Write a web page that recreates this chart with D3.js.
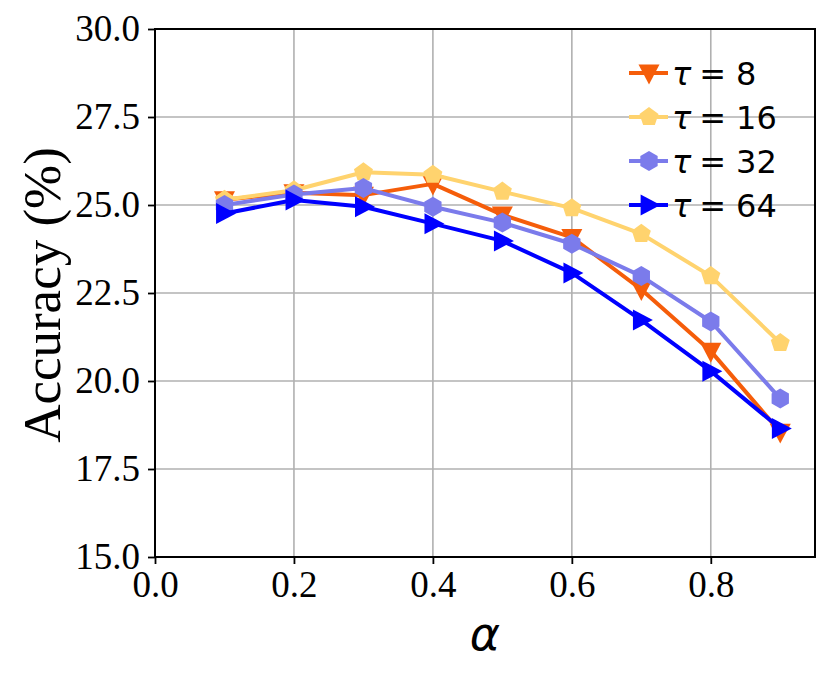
<!DOCTYPE html>
<html><head><meta charset="utf-8">
<script src="https://cdn.jsdelivr.net/npm/d3@7"></script>
<style>body{margin:0;background:#fff;} svg{display:block;}</style>
</head><body>
<svg id="c" width="830" height="677"></svg>
<script>
const alphas = [0.1,0.2,0.3,0.4,0.5,0.6,0.7,0.8,0.9];
const tau8  = [25.15,25.35,25.28,25.6,24.72,24.08,22.6,20.85,18.55];
const tau16 = [25.15,25.42,25.93,25.86,25.38,24.91,24.18,22.98,21.08];
const tau32 = [25.0,25.3,25.48,24.95,24.5,23.9,22.98,21.69,19.5];
const tau64 = [24.76,25.14,24.95,24.47,23.98,23.07,21.73,20.28,18.65];
const seriesNames = ["8","16","32","64"];
const seriesColors = ["#F55D0A","#FFD36E","#7B7BEB","#0000FF"];
const seriesMarkers = ["tridown","pentagon","hexagon","triright"];
const xTicks = [0.0,0.2,0.4,0.6,0.8];
const yTicks = [15.0,17.5,20.0,22.5,25.0,27.5,30.0];

const svg = d3.select("#c");
const L=155,R=815,T=29,B=557;
const x = d3.scaleLinear().domain([0,0.95]).range([L,R]);
const y = d3.scaleLinear().domain([15,30]).range([B,T]);

// grid
svg.append("g").selectAll("line").data(xTicks).join("line")
  .attr("x1",d=>x(d)).attr("x2",d=>x(d)).attr("y1",T).attr("y2",B)
  .attr("stroke","#b0b0b0").attr("stroke-width",1.6);
svg.append("g").selectAll("line").data(yTicks).join("line")
  .attr("y1",d=>y(d)).attr("y2",d=>y(d)).attr("x1",L).attr("x2",R)
  .attr("stroke","#b0b0b0").attr("stroke-width",1.6);

// axes
const xAxis = d3.axisBottom(x).tickValues(xTicks).tickFormat(d3.format(".1f")).tickSize(7).tickPadding(7);
const yAxis = d3.axisLeft(y).tickValues(yTicks).tickFormat(d3.format(".1f")).tickSize(7).tickPadding(8);
const gx = svg.append("g").attr("transform",`translate(0,${B})`).call(xAxis);
const gy = svg.append("g").attr("transform",`translate(${L},0)`).call(yAxis);
[gx,gy].forEach(g=>{
  g.select(".domain").remove();
  g.selectAll(".tick line").attr("stroke","#000").attr("stroke-width",1.8);
  g.selectAll(".tick text").attr("fill","#000").style("font-family","'Liberation Serif','Times New Roman',serif").style("font-size","37px");
});

function markerPath(type){
  if(type==="tridown"){ const s=10.5; return `M${-s},${-s*0.8}L${s},${-s*0.8}L0,${s*1.1}Z`; }
  if(type==="triright"){ const s=10.5; return `M${-s*0.8},${-s}L${-s*0.8},${s}L${s*1.1},0Z`; }
  const n = type==="pentagon"?5:6, r = 10;
  const pts=[];
  for(let i=0;i<n;i++){ const a=-Math.PI/2+i*2*Math.PI/n; pts.push([r*Math.cos(a),r*Math.sin(a)]); }
  return "M"+pts.map(p=>p.join(",")).join("L")+"Z";
}

const allSeries=[tau8,tau16,tau32,tau64];
const line = d3.line().x((d,i)=>x(alphas[i])).y(d=>y(d));
const plot = svg.append("g");
allSeries.forEach((vals,si)=>{
  const g = plot.append("g");
  g.append("path").attr("d",line(vals)).attr("fill","none")
    .attr("stroke",seriesColors[si]).attr("stroke-width",4).attr("stroke-linejoin","round");
  g.selectAll("path.m").data(vals).join("path").attr("class","m")
    .attr("d",markerPath(seriesMarkers[si]))
    .attr("transform",(d,i)=>`translate(${x(alphas[i])},${y(d)})`)
    .attr("fill",seriesColors[si]);
});

// spines
svg.append("rect").attr("x",L).attr("y",T).attr("width",R-L).attr("height",B-T)
  .attr("fill","none").attr("stroke","#000").attr("stroke-width",2);

// legend
const lg = svg.append("g");
seriesNames.forEach((nm,i)=>{
  const cy = 73 + i*44;
  lg.append("line").attr("x1",629).attr("x2",668).attr("y1",cy).attr("y2",cy)
    .attr("stroke",seriesColors[i]).attr("stroke-width",4);
  lg.append("path").attr("d",markerPath(seriesMarkers[i])).attr("transform",`translate(649,${cy})`).attr("fill",seriesColors[i]);
  const t = lg.append("text").attr("x",672).attr("y",cy+11.5)
    .style("font-family","'DejaVu Sans',sans-serif").style("font-size","32px").attr("fill","#000");
  t.append("tspan").style("font-style","italic").text("τ");
  t.append("tspan").attr("dx",8).text("=");
  t.append("tspan").attr("dx",10).text(nm);
});

// axis labels
svg.append("text").attr("x",485).attr("y",650).attr("text-anchor","middle")
  .style("font-family","'DejaVu Sans',sans-serif").style("font-style","italic").style("font-size","46px").text("α");
svg.append("text").attr("transform","translate(60,295) rotate(-90)").attr("text-anchor","middle")
  .style("font-family","'Liberation Serif','Times New Roman',serif").style("font-size","53px").text("Accuracy (%)");
</script>
</body></html>
